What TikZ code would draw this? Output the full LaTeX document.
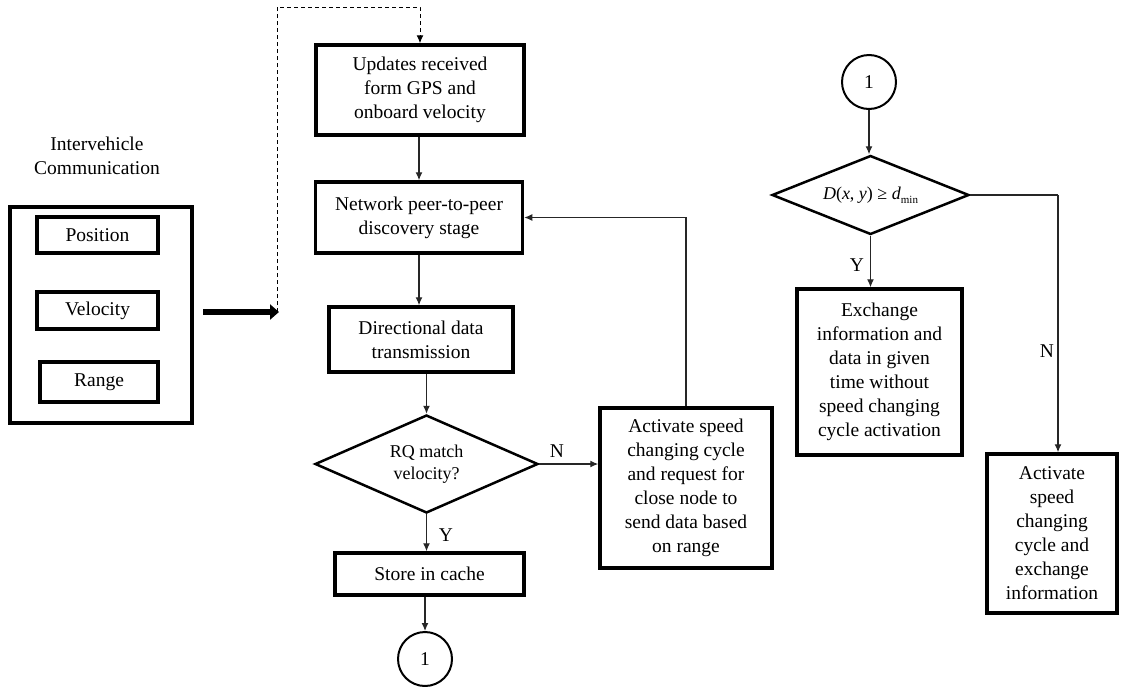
\documentclass[tikz,border=0pt]{standalone}
\usepackage{fontspec}
\setmainfont{Liberation Serif}
\usetikzlibrary{shapes.geometric,arrows.meta}
\begin{document}
\begin{tikzpicture}[x=1pt,y=-1pt,
  font=\fontsize{19.5}{24}\selectfont,
  box/.style={draw, line width=3.5pt, inner sep=0pt, align=center},
  dia/.style={draw, diamond, line width=2.5pt, inner sep=0pt, align=center, font=\fontsize{18}{22}\selectfont},
  conn/.style={draw=black!85, line width=1.2pt, -{Latex[length=8pt,width=7pt]}},
  plain/.style={draw=black!85, line width=1.2pt},
  circ/.style={draw, circle, line width=2pt, minimum size=54pt, inner sep=0pt},
  lbl/.style={inner sep=0pt}]
\useasboundingbox (0,0) rectangle (1121,686);

% left panel
\node[lbl, align=center] (ivc) at (97,156) {Intervehicle\\Communication};
\node[box, minimum width=182pt, minimum height=216pt] (outer) at (101,315) {};
\node[box, minimum width=121pt, minimum height=36pt] (pos) at (97.5,235) {Position};
\node[box, minimum width=121pt, minimum height=37pt] (vel) at (97.5,310.5) {Velocity};
\node[box, minimum width=118pt, minimum height=40pt] (rng) at (99,382) {Range};

% middle column
\node[box, minimum width=208pt, minimum height=90pt] (upd) at (420,90) {Updates received\\form GPS and\\onboard velocity};
\node[box, minimum width=207pt, minimum height=71pt] (net) at (419,217.5) {Network peer-to-peer\\discovery stage};
\node[box, minimum width=184pt, minimum height=65pt] (dir) at (421,339.5) {Directional data\\transmission};
\node[dia, shape aspect=2.27, minimum width=223pt, minimum height=98pt] (rq) at (426.5,464) {RQ match\\velocity?};
\node[box, minimum width=189pt, minimum height=42pt] (store) at (429.5,574) {Store in cache};
\node[circ] (c1) at (425,659) {1};
\node[box, minimum width=172pt, minimum height=160pt] (act) at (686,488) {Activate speed\\changing cycle\\and request for\\close node to\\send data based\\on range};

\coordinate (ta) at (203,312);
\coordinate (tb) at (279,312);
\coordinate (dtop) at (277,7);
\draw[line width=6pt, -{Triangle[length=9pt,width=15pt]}] (ta) -- (tb);
\draw[line width=1pt, dash pattern=on 4pt off 3pt, -{Latex[length=8pt,width=7pt]}] (tb -| dtop) -- (dtop) -| (upd.north);

\draw[conn] (upd.south -| net.north) -- (net.north);
\draw[conn] (net.south) -- (net.south |- dir.north);
\draw[conn] (rq.north |- dir.south) -- (rq.north);
\draw[conn] (rq.south) -- (rq.south |- store.north);
\node[lbl] (y1) at (446,535) {Y};
\draw[conn] (store.south -| c1.north) -- (c1.north);
\draw[conn] (rq.east) -- (rq.east -| act.west);
\node[lbl] (n1) at (557,451) {N};
\draw[conn] (act.north) |- (net.east);

% right column
\node[circ] (c2) at (869,82) {1};
\node[dia, shape aspect=2.5, minimum width=197pt, minimum height=79pt] (dd) at (870.5,195) {\textit{D}(\textit{x}, \textit{y}) ≥ \textit{d}\raisebox{-0.45ex}{\fontsize{11}{11}\selectfont min}};
\node[box, minimum width=165pt, minimum height=166pt] (exch) at (879.5,372) {Exchange\\information and\\data in given\\time without\\speed changing\\cycle activation};
\node[box, minimum width=130pt, minimum height=159pt] (act2) at (1052,533.5) {Activate\\speed\\changing\\cycle and\\exchange\\information};
\coordinate (nc) at (1058,195);

\draw[conn] (c2.south) -- (c2.south |- dd.north);
\draw[conn] (dd.south) -- (dd.south |- exch.north);
\node[lbl] (y2) at (857,265) {Y};
\draw[plain] (dd.east) -- (nc);
\draw[conn] (nc) -- (nc |- act2.north);
\node[lbl] (n2) at (1047,351) {N};
\end{tikzpicture}
\end{document}
